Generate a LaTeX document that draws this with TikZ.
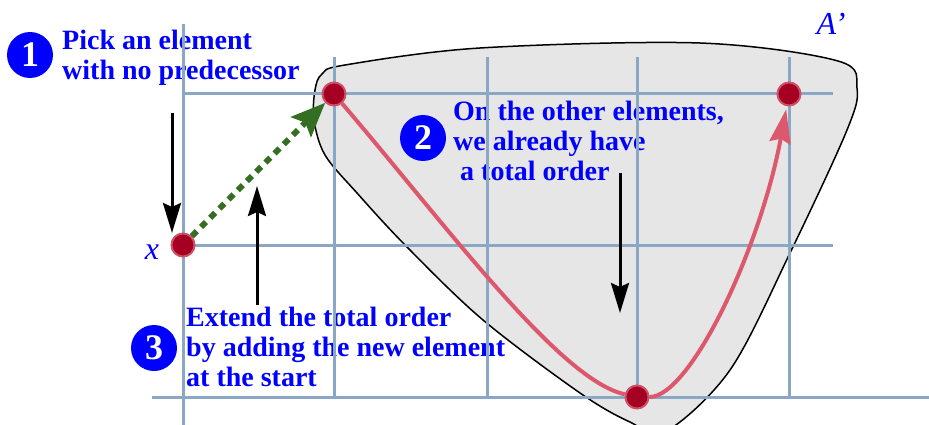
\documentclass[tikz,border=0pt]{standalone}
\usepackage{fontspec}
\setmainfont{Liberation Serif}
\usetikzlibrary{arrows.meta}

\definecolor{gridblue}{RGB}{138,168,198}
\definecolor{blobgrey}{RGB}{230,230,230}
\definecolor{chainred}{RGB}{220,88,108}
\definecolor{elemred}{RGB}{165,0,33}
\definecolor{elemrim}{RGB}{205,80,105}
\definecolor{pickgreen}{RGB}{52,110,32}

\begin{document}
\begin{tikzpicture}[x=1pt, y=-1pt,
    gridline/.style={gridblue, line width=3pt},
    elem/.style={circle, fill=elemred, draw=elemrim, line width=2pt, minimum size=23pt, inner sep=0pt},
    badge/.style={circle, fill=blue, text=white, minimum size=46pt, inner sep=0pt, font=\fontsize{36}{36}\selectfont\bfseries},
    note/.style={text=blue, align=left, inner sep=0pt, font=\fontsize{28}{30}\selectfont\bfseries},
    hint/.style={black, line width=3pt, -{Stealth[length=30pt, width=18pt, inset=4pt]}}]
        \useasboundingbox (0,0) rectangle (929,425);

        % L'ensemble A' (fond gris)
        \draw[fill=blobgrey, line width=1.5pt] plot[smooth cycle, tension=0.55] coordinates {
            (322,74) (345,65) (480,48) (700,43) (838,61) (857,88) (847,130)
            (790,253) (730,370) (665,432) (630,422) (580,393) (483,320)
            (407,247) (357,193) (325,155) (314,120) (315,90)};
        \node[text=blue, font=\fontsize{32}{32}\selectfont\itshape] (aname) at (831,24) {A’};

        % Les textes explicatifs (ancre sur la derniere ligne)
        \node[badge] (one) at (30,55) {1};
        \node[note, anchor=base west] (pick) at (62,80) {Pick an element\\with no predecessor};
        \node[badge] (two) at (423,138) {2};
        \node[note, anchor=base west] (others) at (453,180) {On the other elements,\\we already have\\\ a total order};
        \node[badge] (three) at (154,348) {3};
        \node[note, anchor=base west] (extend) at (186,386) {Extend the total order\\by adding the new element\\at the start};

        % Grille
        \draw[gridline] (183,24) -- (183,425);
        \foreach \gx in {334,487,637,789}
            \draw[gridline] (\gx,57) -- (\gx,397);
        \foreach \gy in {94,245}
            \draw[gridline] (183,\gy) -- (833,\gy);
        \draw[gridline] (152,397) -- (929,397);

        % Elements
        \node[elem] (x) at (183,245) {};
        \node[elem] (first) at (334,94) {};
        \node[elem] (last) at (789,94) {};
        \node[elem] (low) at (637,397) {};
        \node[text=blue, font=\fontsize{32}{32}\selectfont\itshape] (xname) at (152,252) {x};

        % Ordre total sur A'
        \draw[chainred, line width=4pt] (first) .. controls (450,230) and (560,380) .. (low);
        \draw[chainred, line width=4pt, -{Stealth[length=34pt, width=21pt, inset=4pt]}, shorten >=3pt]
            (low) .. controls (690,397) and (760,250) .. (last);

        % Nouvel element en tete
        \draw[pickgreen, line width=6pt, dash pattern=on 7pt off 6pt,
            -{Stealth[length=34pt, width=28pt, inset=6pt]}] (x) -- (first);

        % Fleches vers les etapes
        \coordinate (h1s) at (172,113);
        \coordinate (h1e) at (172,233);
        \coordinate (h3s) at (257,305);
        \coordinate (h3e) at (257,186);
        \coordinate (h2s) at (620,173);
        \coordinate (h2e) at (620,313);
        \draw[hint] (h1s) -- (h1e);
        \draw[hint] (h3s) -- (h3e);
        \draw[hint] (h2s) -- (h2e);

    \end{tikzpicture}
\end{document}
